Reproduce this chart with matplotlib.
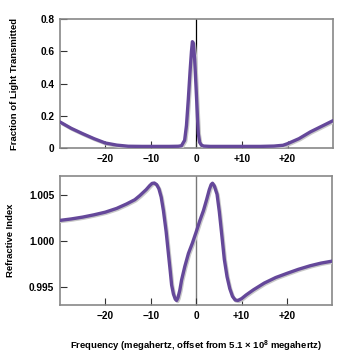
import matplotlib.pyplot as plt
from matplotlib import patheffects as pe

# transmission (top panel)
freq_t = [-30, -27.5, -25, -22.5, -20, -17.5, -15, -12, -9, -6, -4, -3.3, -2.6, -2.2, -1.8,
          -1.4, -1.1, -0.9, -0.7, -0.4, -0.1, 0.2, 0.4, 0.7, 1.1, 1.6, 3, 6, 10, 14, 17,
          19, 20, 22.5, 25, 27.5, 30]
trans = [0.162, 0.122, 0.089, 0.058, 0.031, 0.018, 0.011, 0.01, 0.01, 0.01, 0.011, 0.014, 0.048,
         0.14, 0.30, 0.48, 0.60, 0.66, 0.65, 0.55, 0.38, 0.2, 0.09, 0.035, 0.017, 0.012, 0.01,
         0.01, 0.01, 0.01, 0.012, 0.017, 0.027, 0.058, 0.1, 0.135, 0.17]

# refractive index (bottom panel)
freq_n = [-30, -27.5, -25, -22.5, -20, -17.5, -15.3, -13.5, -12.4, -11, -10.2, -9.7, -9.2, -8.7,
          -8.2, -7.7, -7.2, -6.6, -6.1, -5.7, -5.4, -5.0, -4.6, -4.3, -4.0, -3.6, -3.2, -2.5,
          -1.7, -0.8, 0, 0.8, 1.6, 2.3, 2.9, 3.3, 3.6, 4.0, 4.6, 5.1, 5.7, 6.2, 6.8, 7.4, 8.0,
          8.6, 9.2, 10, 11, 12.6, 15, 17.5, 20, 22.5, 25.1, 27.5, 30]
index = [1.00224, 1.00240, 1.00260, 1.00285, 1.00314, 1.00355, 1.00404, 1.00450, 1.00495,
         1.00560, 1.00605, 1.00628, 1.00632, 1.00615, 1.00570, 1.00480, 1.00330, 1.00100,
         0.99860, 0.99670, 0.99520, 0.99420, 0.99365, 0.99350, 0.99380, 0.99460, 0.99574,
         0.99720, 0.99863, 0.99980, 1.00097, 1.00220, 1.00330, 1.00450, 1.00560, 1.00615,
         1.00630, 1.00600, 1.00510, 1.00320, 1.00040, 0.99800, 0.99610, 0.99480, 0.99395,
         0.99355, 0.99350, 0.99370, 0.99410, 0.99466, 0.99540, 0.99600, 0.99646, 0.99690,
         0.99729, 0.99758, 0.99780]

xticks = [-20, -10, 0, 10, 20]
xlabels = ["\u221220", "\u221210", "0", "+10", "+20"]

plt.rcParams['font.family'] = ['Liberation Sans', 'DejaVu Sans']
plt.rcParams['font.weight'] = 'bold'
plt.rcParams['axes.labelweight'] = 'bold'
plt.rcParams['mathtext.fontset'] = 'custom'
plt.rcParams['mathtext.rm'] = 'Liberation Sans:bold'
plt.rcParams['mathtext.default'] = 'rm'

fig = plt.figure(figsize=(3.42, 3.61), dpi=100)
ax1 = fig.add_axes([0.175, 0.59, 0.799, 0.357])
ax2 = fig.add_axes([0.175, 0.155, 0.797, 0.357])

purple = '#65489a'
shadow = [pe.SimpleLineShadow(offset=(0.8, -0.8), shadow_color='#c8c8c8', alpha=1), pe.Normal()]

ax1.axvline(0, color='black', lw=0.9, zorder=1)
ax1.plot(freq_t, trans, color=purple, lw=2.4, solid_capstyle='round', path_effects=shadow, zorder=3)
ax1.set_xlim(-30, 30)
ax1.set_ylim(0, 0.8)
ax1.set_yticks([0, 0.2, 0.4, 0.6, 0.8])
ax1.set_yticklabels(["0", "0.2", "0.4", "0.6", "0.8"])
ax1.set_ylabel("Fraction of Light Transmitted", fontsize=6.8, labelpad=15)

ax2.axvline(0, color='#777777', lw=1.0, zorder=1)
ax2.plot(freq_n, index, color=purple, lw=2.4, solid_capstyle='round', path_effects=shadow, zorder=3)
ax2.set_xlim(-30, 30)
ax2.set_ylim(0.993, 1.00707)
ax2.set_yticks([0.995, 1.000, 1.005])
ax2.set_yticklabels(["0.995", "1.000", "1.005"])
ax2.set_ylabel("Refractive Index", fontsize=6.8, labelpad=10)
ax2.set_xlabel("Frequency (megahertz, offset from 5.1 \u00d7 10$^{8}$ megahertz)", fontsize=6.8, labelpad=13)

for ax in (ax1, ax2):
    ax.set_xticks(xticks)
    ax.set_xticklabels(xlabels)
    ax.tick_params(direction='in', length=5, width=0.8, color='#333333', labelsize=7.3,
                   top=False, right=False, pad=4)
    for s in ax.spines.values():
        s.set_color('#888888')
        s.set_linewidth(1.2)

fig.savefig("out.png", dpi=100)
